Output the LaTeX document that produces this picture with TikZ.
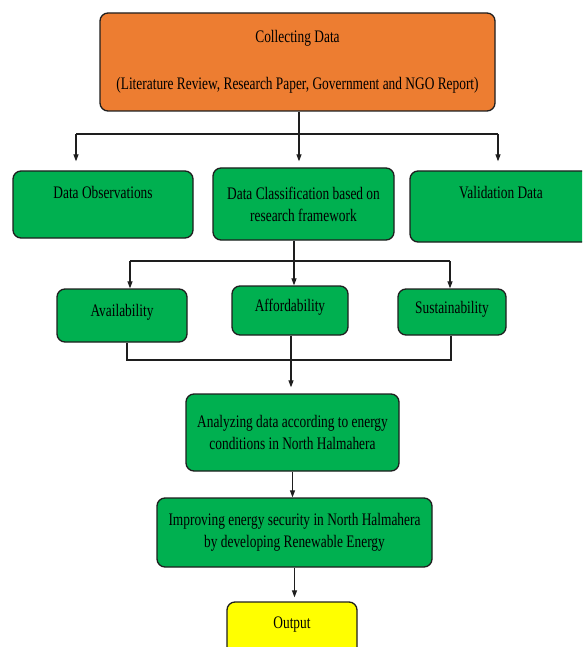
\documentclass[tikz,border=0pt]{standalone}
\usepackage{fontspec}
\setmainfont{Liberation Serif}[FakeStretch=0.76]
\usetikzlibrary{arrows.meta, positioning}
\definecolor{BoxOrange}{HTML}{ED7D31}
\definecolor{BoxGreen}{HTML}{00B050}
\definecolor{BoxYellow}{HTML}{FFFF00}
\definecolor{EdgeDark}{HTML}{1E1E1E}

\begin{document}
\begin{tikzpicture}[x=1pt, y=-1pt,
    font=\fontsize{17.6}{22}\selectfont,
    box/.style={rectangle, rounded corners=8pt, draw=EdgeDark, line width=1.3pt,
                align=center, inner sep=0pt, text=black},
    greenbox/.style={box, fill=BoxGreen},
    flow/.style={-{Triangle[length=7pt, width=5pt]}, line width=1.2pt, EdgeDark},
    link/.style={line width=1.2pt, EdgeDark}
]
    \clip (0,0) rectangle (582,647);

    % Data collection
    \node[box, fill=BoxOrange, minimum width=395pt, minimum height=98pt] (collect) at (297.5,62) {
        Collecting Data\\[25pt]
        (Literature Review, Research Paper, Government and NGO Report)
    };

    % Second row
    \node[greenbox, minimum width=180pt, minimum height=67pt, text height=13pt, text depth=26pt] (observe) at (103,204.5) {Data Observations};
    \node[greenbox, minimum width=181pt, minimum height=72pt] (classify) at (303.5,204) {
        Data Classification based on\\
        research framework
    };
    \node[greenbox, minimum width=182pt, minimum height=71pt, text height=13pt, text depth=30pt] (validate) at (501,206.5) {Validation Data};

    % Research framework
    \node[greenbox, minimum width=130pt, minimum height=53pt, text height=13pt, text depth=12pt] (avail) at (122,315.5) {Availability};
    \node[greenbox, minimum width=116pt, minimum height=49pt, text height=13pt, text depth=12pt] (afford) at (290,310.5) {Affordability};
    \node[greenbox, minimum width=108pt, minimum height=46pt, text height=13pt, text depth=11pt] (sustain) at (452,312) {Sustainability};

    % Analysis and result
    \node[greenbox, minimum width=213pt, minimum height=77pt] (analyze) at (292.5,432.5) {
        Analyzing data according to energy\\
        conditions in North Halmahera
    };
    \node[greenbox, minimum width=275pt, minimum height=69pt] (improve) at (294.5,532.5) {
        Improving energy security in North Halmahera\\
        by developing Renewable Energy
    };
    \node[box, fill=BoxYellow, minimum width=130pt, minimum height=53pt, text height=13pt, text depth=14pt] (output) at (292,628.5) {Output};

    % Branches below data collection
    \coordinate (busA) at (299,134);
    \coordinate (busAL) at (76,134);
    \coordinate (busAR) at (498,134);
    \draw[link] (collect.south -| busA) -- (busA);
    \draw[link] (busAL) -- (busAR);
    \draw[flow, shorten >=9pt] (busAL) -- (busAL |- observe.north);
    \draw[flow, shorten >=6pt] (busA) -- (busA |- classify.north);
    \draw[flow, shorten >=9pt] (busAR) -- (busAR |- validate.north);

    % Branches below classification
    \coordinate (busB) at (294,261);
    \coordinate (busBL) at (130,261);
    \coordinate (busBR) at (450,261);
    \draw[flow] (classify.south -| busB) -- (afford.north -| busB);
    \draw[link] (busBL) -- (busBR);
    \draw[flow] (busBL) -- (busBL |- avail.north);
    \draw[flow] (busBR) -- (busBR |- sustain.north);

    % Merge into analysis
    \coordinate (busC) at (291,360);
    \coordinate (busCL) at (127,360);
    \coordinate (busCR) at (451,360);
    \draw[link] (avail.south -| busCL) -- (busCL) -- (busCR) -- (sustain.south -| busCR);
    \draw[flow, shorten >=6pt] (afford.south -| busC) -- (analyze.north -| busC);

    % Final steps
    \draw[flow] (analyze.south) -- (analyze.south |- improve.north);
    \draw[flow, shorten >=4pt] (improve.south) -- (improve.south |- output.north);
\end{tikzpicture}
\end{document}
